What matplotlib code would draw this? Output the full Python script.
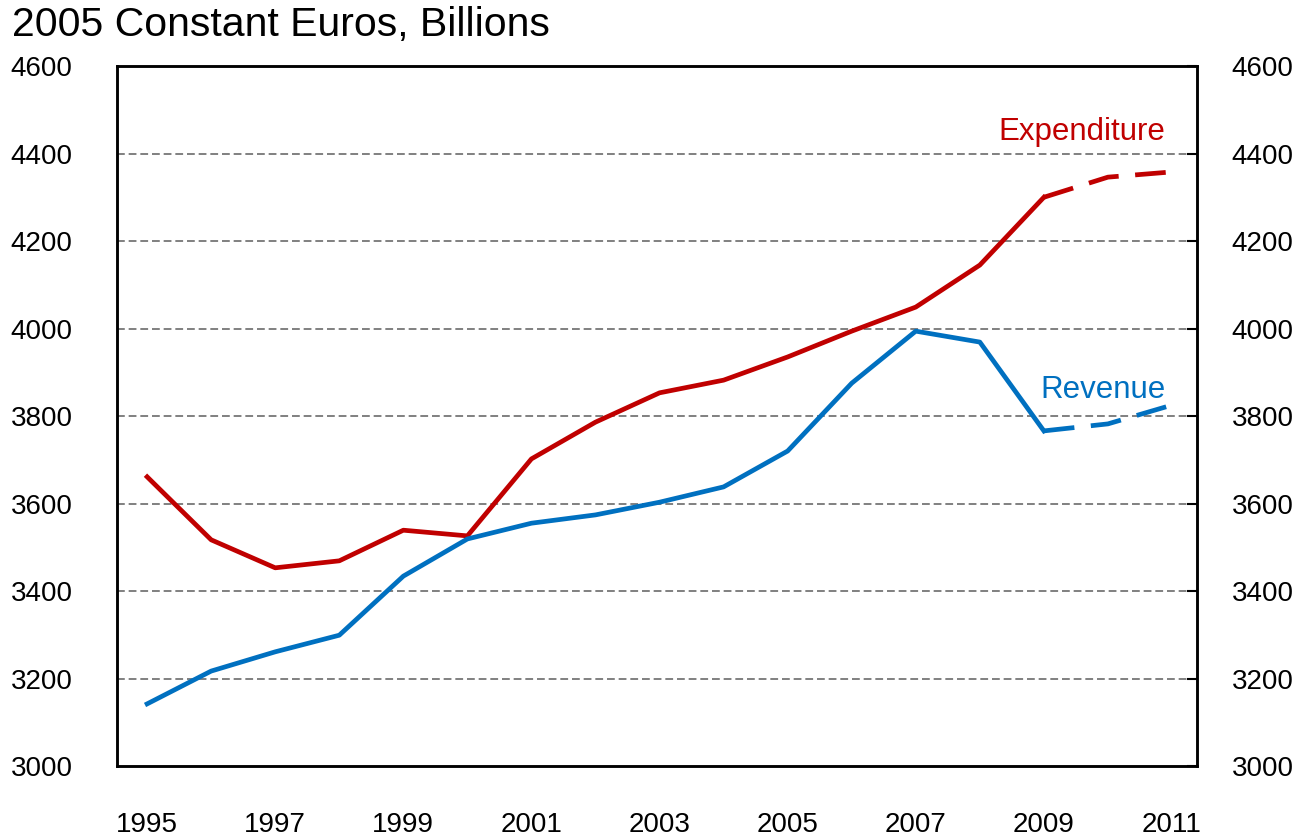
import matplotlib.pyplot as plt

years = list(range(1995, 2012))
expenditure = [3661, 3517, 3453, 3469, 3539, 3526, 3702, 3786, 3853, 3882,
               3935, 3994, 4049, 4145, 4300, 4346, 4358]
revenue = [3142, 3217, 3261, 3299, 3434, 3519, 3555, 3574, 3603, 3638,
           3720, 3875, 3994, 3969, 3766, 3782, 3825]
proj_start = 2009  # values after this year are projections (dashed)

red = '#C00000'
blue = '#0070C0'
plt.rcParams['font.family'] = ['Liberation Sans', 'DejaVu Sans']

fig = plt.figure(figsize=(13.09, 8.39), dpi=100)
ax = fig.add_axes([0.0894, 0.087, 0.825, 0.8343])

i = years.index(proj_start)
lw = 3.4
ax.plot(years[:i + 1], expenditure[:i + 1], color=red, lw=lw)
ax.plot(years[i:], expenditure[i:], color=red, lw=lw, ls=(0, (6.5, 3.5)))
ax.plot(years[:i + 1], revenue[:i + 1], color=blue, lw=lw)
ax.plot(years[i:], revenue[i:], color=blue, lw=lw, ls=(0, (6.5, 3.5)))

yt = list(range(3000, 4601, 200))
ax.set_xlim(1994.53, 2011.39)
ax.set_ylim(3000, 4600)
ax.set_yticks(yt)
ax.set_xticks(years[::2])
for y in yt[1:-1]:
    ax.axhline(y, color='#808080', lw=1.4, ls=(0, (4, 2)), zorder=0)

# right-hand axis repeats the same scale
ax2 = ax.twinx()
ax2.set_ylim(3000, 4600)
ax2.set_yticks(yt)

ax.tick_params(axis='y', direction='in', length=0, labelsize=20, pad=32)
ax2.tick_params(axis='y', direction='in', length=7, width=1.5, labelsize=20,
                pad=25)
ax.tick_params(axis='x', length=0, labelsize=20, pad=33)
for a in (ax, ax2):
    for s in a.spines.values():
        s.set_linewidth(1.8)

fig.text(0.009, 0.97, '2005 Constant Euros, Billions', fontsize=29.5,
         va='center', ha='left')
ax.text(2010.9, 4449, 'Expenditure', color=red, fontsize=22.5,
        ha='right', va='center')
ax.text(2010.9, 3859, 'Revenue', color=blue, fontsize=22.5,
        ha='right', va='center')

fig.savefig('out.png', dpi=100)
